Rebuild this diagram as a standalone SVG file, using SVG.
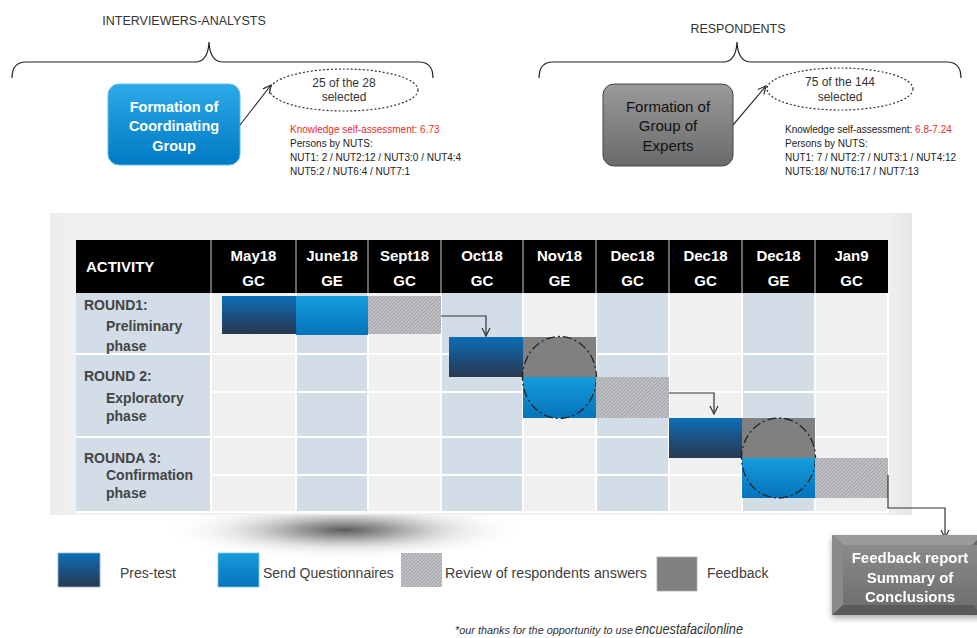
<svg xmlns="http://www.w3.org/2000/svg" width="977" height="638" viewBox="0 0 977 638">
<defs>
<style>
.t{font-family:"Liberation Sans",Arial,sans-serif;fill:#333}
.hd{font-family:"Liberation Sans",Arial,sans-serif;font-weight:bold;font-size:15px;fill:#fff;text-anchor:middle}
.rl{font-family:"Liberation Sans",Arial,sans-serif;font-weight:bold;font-size:14px;fill:#444}
.sm{font-family:"Liberation Sans",Arial,sans-serif;font-size:10px;fill:#222}
.lg{font-family:"Liberation Sans",Arial,sans-serif;font-size:14px;fill:#404040}
.ln{fill:none;stroke:#333;stroke-width:1.2}
.brace{fill:none;stroke:#222;stroke-width:1.2}
.circ{fill:none;stroke:#222;stroke-width:1.3;stroke-dasharray:9 3 2 3}
.colB{fill:#d2dde7}
.colG{fill:#f0f0f0}
</style>
<linearGradient id="gPres" x1="0" y1="0" x2="0" y2="1">
<stop offset="0" stop-color="#0b6fb6"/><stop offset="0.5" stop-color="#1b5184"/><stop offset="1" stop-color="#283850"/>
</linearGradient>
<linearGradient id="gSend" x1="0" y1="0" x2="0" y2="1">
<stop offset="0" stop-color="#169ddc"/><stop offset="1" stop-color="#0573ba"/>
</linearGradient>
<linearGradient id="gBlueBox" x1="0" y1="0" x2="0" y2="1">
<stop offset="0" stop-color="#2caae8"/><stop offset="1" stop-color="#0079c2"/>
</linearGradient>
<linearGradient id="gGrayBox" x1="0" y1="0" x2="0" y2="1">
<stop offset="0" stop-color="#9a9a9a"/><stop offset="1" stop-color="#6a6a6a"/>
</linearGradient>
<linearGradient id="gFb" x1="0" y1="0" x2="0" y2="1">
<stop offset="0" stop-color="#8a8a8a"/><stop offset="1" stop-color="#707070"/>
</linearGradient>
<pattern id="hatch" width="2.5" height="2.5" patternUnits="userSpaceOnUse" patternTransform="rotate(45)">
<rect width="2.5" height="2.5" fill="#c2c4c8"/>
<line x1="0" y1="0" x2="0" y2="2.5" stroke="#86888c" stroke-width="1.1"/>
</pattern>
<radialGradient id="shadow" cx="0.5" cy="0.5" r="0.5">
<stop offset="0" stop-color="#5a5a5a"/><stop offset="0.25" stop-color="#8a8a8a" stop-opacity="0.85"/><stop offset="0.6" stop-color="#cfcfcf" stop-opacity="0.5"/><stop offset="1" stop-color="#ffffff" stop-opacity="0"/>
</radialGradient>
<linearGradient id="panelG" x1="0" y1="0" x2="1" y2="0">
<stop offset="0" stop-color="#ececec"/><stop offset="0.03" stop-color="#f0f0f0"/><stop offset="0.97" stop-color="#f0f0f0"/><stop offset="1" stop-color="#e6e6e6"/>
</linearGradient>
<marker id="arr" markerWidth="10" markerHeight="10" refX="9" refY="5" orient="auto" markerUnits="userSpaceOnUse">
<path d="M1,1 L9,5 L1,9" fill="none" stroke="#333" stroke-width="1.2"/>
</marker>
<filter id="fbShadow" x="-10%" y="-10%" width="130%" height="140%">
<feDropShadow dx="0" dy="3" stdDeviation="3" flood-color="#000" flood-opacity="0.35"/>
</filter>
</defs>
<rect width="977" height="638" fill="#fff"/>

<g id="interviewers">
<text class="t" x="184" y="25" font-size="12.5" text-anchor="middle">INTERVIEWERS-ANALYSTS</text>
<path class="brace" d="M12,78 Q12,62 26,62 L195,62 Q208,62 209,42 Q210,62 223,62 L419,62 Q433,62 433,78"/>
</g>
<g id="coordinating-group">
<rect x="108" y="84" width="132" height="81" rx="11" fill="url(#gBlueBox)" stroke="#5fbde8" stroke-width="1"/>
<text class="t" x="174" y="112" font-size="14.5" font-weight="bold" style="fill:#fff" text-anchor="middle">Formation of</text>
<text class="t" x="174" y="131" font-size="14.5" font-weight="bold" style="fill:#fff" text-anchor="middle">Coordinating</text>
<text class="t" x="174" y="151" font-size="14.5" font-weight="bold" style="fill:#fff" text-anchor="middle">Group</text>
</g>
<g id="sel-gc">
<ellipse cx="344" cy="90" rx="74" ry="21" fill="none" stroke="#333" stroke-width="1.2" stroke-dasharray="2 2"/>
<text class="t" x="344" y="87" font-size="12" text-anchor="middle">25 of the 28</text>
<text class="t" x="344" y="101" font-size="12" text-anchor="middle">selected</text>
</g>
<g id="info-gc">
<text class="sm" x="290" y="133" style="fill:#ee2a2a">Knowledge self-assessment: 6.73</text>
<text class="sm" x="290" y="147">Persons by NUTS:</text>
<text class="sm" x="290" y="161">NUT1: 2 / NUT2:12 / NUT3:0 / NUT4:4</text>
<text class="sm" x="290" y="175">NUT5:2 / NUT6:4 / NUT7:1</text>
</g>

<g id="respondents">
<text class="t" x="738" y="33" font-size="12.5" text-anchor="middle">RESPONDENTS</text>
<path class="brace" d="M539,78 Q539,62 553,62 L723,62 Q736,62 737,42 Q738,62 751,62 L947,62 Q961,62 961,78"/>
</g>
<g id="experts-group">
<rect x="603" y="84" width="130" height="82" rx="11" fill="url(#gGrayBox)" stroke="#444" stroke-width="1"/>
<text class="t" x="668" y="112" font-size="15" text-anchor="middle" style="fill:#111">Formation of</text>
<text class="t" x="668" y="131" font-size="15" text-anchor="middle" style="fill:#111">Group of</text>
<text class="t" x="668" y="151" font-size="15" text-anchor="middle" style="fill:#111">Experts</text>
</g>
<g id="sel-ge">
<ellipse cx="840" cy="89" rx="73" ry="21" fill="none" stroke="#333" stroke-width="1.2" stroke-dasharray="2 2"/>
<text class="t" x="840" y="86" font-size="12" text-anchor="middle">75 of the 144</text>
<text class="t" x="840" y="101" font-size="12" text-anchor="middle">selected</text>
</g>
<g id="info-ge">
<text class="sm" x="785" y="133">Knowledge self-assessment: <tspan style="fill:#ee2a2a">6.8-7.24</tspan></text>
<text class="sm" x="785" y="147">Persons by NUTS:</text>
<text class="sm" x="785" y="161">NUT1: 7 / NUT2:7 / NUT3:1 / NUT4:12</text>
<text class="sm" x="785" y="175">NUT5:18/ NUT6:17 / NUT7:13</text>
</g>

<g id="panel">
<ellipse cx="345" cy="530" rx="185" ry="30" fill="url(#shadow)"/>
<rect x="50" y="213" width="862" height="302" fill="url(#panelG)"/>
</g>

<g id="table">
<rect x="76" y="240" width="812" height="53" fill="#000"/>
<g stroke="#8a8a8a" stroke-width="1.5">
<line x1="211" y1="240" x2="211" y2="293"/><line x1="296" y1="240" x2="296" y2="293"/>
<line x1="368" y1="240" x2="368" y2="293"/><line x1="441" y1="240" x2="441" y2="293"/>
<line x1="523" y1="240" x2="523" y2="293"/><line x1="596" y1="240" x2="596" y2="293"/>
<line x1="669" y1="240" x2="669" y2="293"/><line x1="742" y1="240" x2="742" y2="293"/>
<line x1="815" y1="240" x2="815" y2="293"/>
</g>
<text class="hd" x="86" y="272" font-size="14" style="text-anchor:start">ACTIVITY</text>
<text class="hd" x="253.5" y="261">May18</text><text class="hd" x="253.5" y="286">GC</text>
<text class="hd" x="332" y="261">June18</text><text class="hd" x="332" y="286">GE</text>
<text class="hd" x="404.5" y="261">Sept18</text><text class="hd" x="404.5" y="286">GC</text>
<text class="hd" x="482" y="261">Oct18</text><text class="hd" x="482" y="286">GC</text>
<text class="hd" x="559.5" y="261">Nov18</text><text class="hd" x="559.5" y="286">GE</text>
<text class="hd" x="632.5" y="261">Dec18</text><text class="hd" x="632.5" y="286">GC</text>
<text class="hd" x="705.5" y="261">Dec18</text><text class="hd" x="705.5" y="286">GC</text>
<text class="hd" x="778.5" y="261">Dec18</text><text class="hd" x="778.5" y="286">GE</text>
<text class="hd" x="851.5" y="261">Jan9</text><text class="hd" x="851.5" y="286">GC</text>
<rect class="colB" x="76" y="293" width="135" height="219"/>
<rect class="colG" x="211" y="293" width="85" height="219"/>
<rect class="colB" x="296" y="293" width="72" height="219"/>
<rect class="colG" x="368" y="293" width="73" height="219"/>
<rect class="colB" x="441" y="293" width="82" height="219"/>
<rect class="colG" x="523" y="293" width="73" height="219"/>
<rect class="colB" x="596" y="293" width="73" height="219"/>
<rect class="colG" x="669" y="293" width="73" height="219"/>
<rect class="colB" x="742" y="293" width="73" height="219"/>
<rect class="colG" x="815" y="293" width="73" height="219"/>
<g stroke="#fff" stroke-width="2">
<line x1="76" y1="354" x2="888" y2="354"/>
<line x1="211" y1="392" x2="888" y2="392"/>
<line x1="76" y1="437" x2="888" y2="437"/>
<line x1="211" y1="475" x2="888" y2="475"/>
<line x1="76" y1="512" x2="888" y2="512"/>
<line x1="211" y1="293" x2="211" y2="512"/><line x1="296" y1="293" x2="296" y2="512"/>
<line x1="368" y1="293" x2="368" y2="512"/><line x1="441" y1="293" x2="441" y2="512"/>
<line x1="523" y1="293" x2="523" y2="512"/><line x1="596" y1="293" x2="596" y2="512"/>
<line x1="669" y1="293" x2="669" y2="512"/><line x1="742" y1="293" x2="742" y2="512"/>
<line x1="815" y1="293" x2="815" y2="512"/><line x1="888" y1="293" x2="888" y2="512"/>
</g>
<text class="rl" x="84" y="310">ROUND1:</text>
<text class="rl" x="106" y="331">Preliminary</text>
<text class="rl" x="106" y="351">phase</text>
<text class="rl" x="84" y="381">ROUND 2:</text>
<text class="rl" x="106" y="403">Exploratory</text>
<text class="rl" x="106" y="421">phase</text>
<text class="rl" x="84" y="463">ROUNDA 3:</text>
<text class="rl" x="106" y="480">Confirmation</text>
<text class="rl" x="106" y="498">phase</text>
</g>

<g id="round1-blocks">
<rect x="222" y="296" width="74" height="38" fill="url(#gPres)"/>
<rect x="296" y="296" width="72" height="39" fill="url(#gSend)"/>
<rect x="368" y="296" width="73" height="38" fill="url(#hatch)"/>
</g>
<g id="round2-blocks">
<rect x="449" y="337" width="74" height="40" fill="url(#gPres)"/>
<rect x="523" y="337" width="73" height="40" fill="#808080"/>
<rect x="523" y="377" width="73" height="41" fill="url(#gSend)"/>
<ellipse class="circ" cx="559.5" cy="377.5" rx="37" ry="41"/>
<rect x="596" y="377" width="73" height="41" fill="url(#hatch)"/>
</g>
<g id="round3-blocks">
<rect x="669" y="418" width="73" height="40" fill="url(#gPres)"/>
<rect x="742" y="418" width="73" height="40" fill="#808080"/>
<rect x="742" y="458" width="73" height="40" fill="url(#gSend)"/>
<ellipse class="circ" cx="778.5" cy="458" rx="37" ry="40"/>
<rect x="815" y="458" width="73" height="40" fill="url(#hatch)"/>
</g>

<g id="connectors">
<path class="ln" d="M441,316 H486 V336" marker-end="url(#arr)"/>
<path class="ln" d="M669,393 H714 V414" marker-end="url(#arr)"/>
<path class="ln" d="M888,475 V508 H945 V538" marker-end="url(#arr)"/>
<path class="ln" d="M240,125 L271,85" marker-end="url(#arr)"/>
<path class="ln" d="M733,125 L766,86" marker-end="url(#arr)"/>
</g>

<g id="feedback-report" filter="url(#fbShadow)">
<rect x="832" y="535" width="150" height="80" fill="#6a6a6a"/>
<polygon points="832,535 982,535 972,545 843,545" fill="#9a9a9a"/>
<polygon points="832,535 843,545 843,605 832,615" fill="#8a8a8a"/>
<polygon points="832,615 843,605 972,605 982,615" fill="#5a5a5a"/>
<rect x="843" y="545" width="134" height="60" fill="url(#gFb)"/>
<text class="hd" x="910" y="563" font-size="14">Feedback report</text>
<text class="hd" x="910" y="583" font-size="14">Summary of</text>
<text class="hd" x="910" y="602" font-size="14">Conclusions</text>
</g>

<g id="legend">
<rect x="58" y="553" width="42" height="34" fill="url(#gPres)" stroke="#8fb6d6" stroke-width="0.8"/>
<text class="lg" x="120" y="578">Pres-test</text>
<rect x="218" y="553" width="41" height="34" fill="url(#gSend)" stroke="#7cc6ec" stroke-width="0.8"/>
<text class="lg" x="263" y="578">Send Questionnaires</text>
<rect x="401" y="553" width="41" height="34" fill="url(#hatch)"/>
<text class="lg" x="445" y="578" textLength="202" lengthAdjust="spacingAndGlyphs">Review of respondents answers</text>
<rect x="657" y="557" width="40" height="34" fill="#808080" stroke="#aaa" stroke-width="0.8"/>
<text class="lg" x="707" y="578">Feedback</text>
</g>

<g id="footnote">
<text class="t" x="455" y="634" font-size="10.5" font-style="italic" textLength="178" lengthAdjust="spacingAndGlyphs">*our thanks for the opportunity to use</text>
<text class="t" x="635" y="634" font-size="14" font-style="italic" textLength="108" lengthAdjust="spacingAndGlyphs">encuestafacilonline</text>
</g>
</svg>
